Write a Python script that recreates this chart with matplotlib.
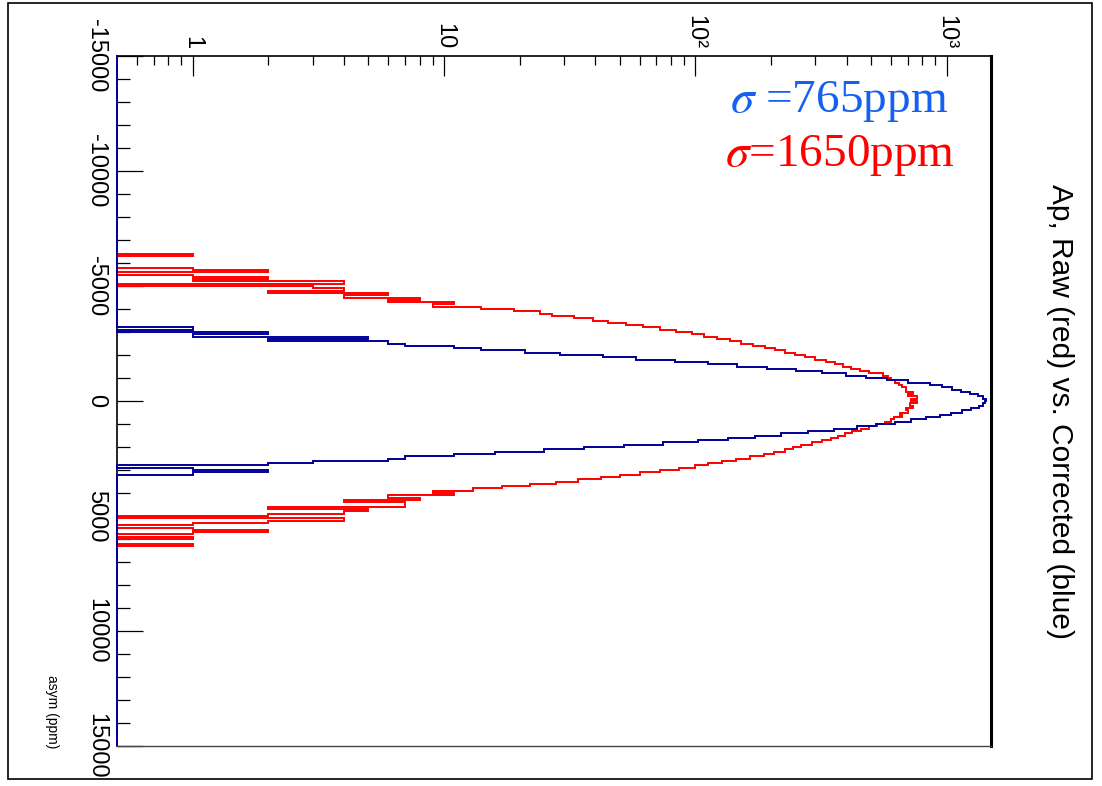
import matplotlib

matplotlib.use("Agg")
import matplotlib.pyplot as plt  # noqa: E402
import numpy as np
from matplotlib import font_manager
from matplotlib.patches import Rectangle
from matplotlib.ticker import FixedLocator, NullFormatter

# histogram binning (ppm)
BIN = 100
RANGE = (-15000, 15000)

# corrected asymmetry, counts per bin starting at lower edge BLUE_LO
BLUE_LO = -3300
blue_counts = [
    0, 1, 0, 2, 1, 5, 2, 6, 7, 11,
    14, 21, 29, 43, 58, 83, 112, 147, 192, 252,
    320, 397, 478, 578, 700, 860, 960, 1050, 1140, 1240,
    1330, 1395, 1436,
    1425, 1395, 1340, 1250, 1150, 1040, 940, 830, 720, 620,
    525, 440, 355, 280, 220, 172, 135, 102, 74, 52,
    36, 25, 16, 11, 7, 6, 3, 2, 0, 1,
    2, 1, 0,
]

# raw asymmetry
RED_LO = -6400
red_counts = [
    1, 0, 0, 0, 0, 0, 1, 2, 0, 1,
    2, 1, 4, 0, 3, 4, 2, 6, 4, 8,
    6, 11, 9, 14, 19, 24, 27, 33, 39, 45,
    53, 62, 72, 84, 97, 108, 122, 137, 152, 170,
    190, 208, 228, 250, 272, 298, 330, 360, 385, 415,
    450, 490, 560, 585, 600, 625, 648, 665, 690, 690,
    735, 700, 760, 720,
    765, 715, 735, 690, 700, 650, 665, 615, 598, 570,
    530, 490, 455, 420, 395, 370, 345, 320, 290, 262,
    245, 228, 205, 188, 165, 145, 128, 112, 100, 86,
    72, 60, 50, 42, 34, 28, 22, 17, 13, 9,
    11, 6, 8, 4, 7, 7, 2, 5, 4, 2,
    0, 4, 2, 1, 0, 1, 2, 1, 0, 1,
    0, 0, 1,
]

count_ticks = [1, 10, 100, 1000]
count_labels = ["1", "10", "10²", "10³"]
count_minor = [0.6, 0.7, 0.8, 0.9] + [m * d for d in (1, 10, 100) for m in range(2, 10)]
asym_ticks = [-15000, -10000, -5000, 0, 5000, 10000, 15000]
asym_labels = ["-15000", "-10000", "-5000", "0", "5000", "10000", "15000"]
asym_minor = list(range(-15000, 15001, 1000))

W, H = 1102, 786
XMIN, XMAX = 0.5, 1500

names = {f.name for f in font_manager.fontManager.ttflist}
NARROW = "Liberation Sans Narrow" if "Liberation Sans Narrow" in names else "Liberation Sans"
plt.rcParams["mathtext.fontset"] = "stix"


def fx(px):
    return px / W


def fy(py):
    return 1 - py / H


def full_range(counts, lo):
    edges = np.arange(RANGE[0], RANGE[1] + BIN, BIN)
    vals = np.zeros(len(edges) - 1)
    i0 = (lo - RANGE[0]) // BIN
    vals[i0:i0 + len(counts)] = counts
    # empty bins sit on the bottom of the log axis
    return np.maximum(vals, XMIN), edges


fig = plt.figure(figsize=(W / 100, H / 100), dpi=100)
ax = fig.add_axes([fx(117), fy(746), (991 - 117) / W, (746 - 56) / H])

for counts, lo, color in ((red_counts, RED_LO, "#ff0000"), (blue_counts, BLUE_LO, "#000099")):
    vals, edges = full_range(counts, lo)
    ax.stairs(vals, edges, orientation="horizontal", baseline=None,
              color=color, lw=1.4, zorder=3, clip_on=False)

ax.set_xscale("log")
ax.set_xlim(XMIN, XMAX)
ax.set_ylim(RANGE[1], RANGE[0])

ax.xaxis.tick_top()
ax.xaxis.set_major_locator(FixedLocator(count_ticks))
ax.xaxis.set_minor_locator(FixedLocator(count_minor))
ax.xaxis.set_minor_formatter(NullFormatter())
ax.set_xticklabels(count_labels, family=NARROW, fontsize=17)
ax.tick_params(axis="x", which="both", direction="in", top=True, bottom=False,
               labeltop=True, labelbottom=False, labelrotation=-90, width=0.9, color="black")
ax.tick_params(axis="x", which="major", length=14.4, pad=5)
ax.tick_params(axis="x", which="minor", length=6.5)

ax.yaxis.set_major_locator(FixedLocator(asym_ticks))
ax.yaxis.set_minor_locator(FixedLocator(asym_minor))
ax.yaxis.set_minor_formatter(NullFormatter())
ax.set_yticklabels(asym_labels, family=NARROW, fontsize=17)
ax.tick_params(axis="y", which="both", direction="in", left=True, right=False,
               labelrotation=-90, width=0.9, color="black")
ax.tick_params(axis="y", which="major", length=18.7, pad=7)
ax.tick_params(axis="y", which="minor", length=9.4)
for lab in ax.get_yticklabels():
    lab.set_va("center")

ax.spines["top"].set_linewidth(1.2)
ax.spines["left"].set_linewidth(1.2)
ax.spines["right"].set_linewidth(2.2)
ax.spines["bottom"].set_color("#444444")
ax.spines["bottom"].set_linewidth(1.0)

fig.text(fx(948), fy(112), r"$\sigma$ =765ppm", color="#1560f0", fontsize=34,
         family="Liberation Serif", ha="right", va="baseline")
fig.text(fx(955), fy(166), r"$\sigma$=1650ppm", color="#ff0000", fontsize=34,
         family="Liberation Serif", ha="right", va="baseline")

fig.text(fx(1060), fy(412), "Ap, Raw (red) vs. Corrected (blue)", rotation=-90,
         family=NARROW, fontsize=21.5, ha="center", va="center")
fig.text(fx(52), fy(748), "asym (ppm)", rotation=-90, family=NARROW, fontsize=10,
         ha="center", va="bottom")

# canvas border
fig.add_artist(Rectangle((fx(8), fy(779)), (1092 - 8) / W, (779 - 3) / H,
                         transform=fig.transFigure, fill=False, lw=1.2, ec="black"))

fig.savefig("out.png", dpi=100)
